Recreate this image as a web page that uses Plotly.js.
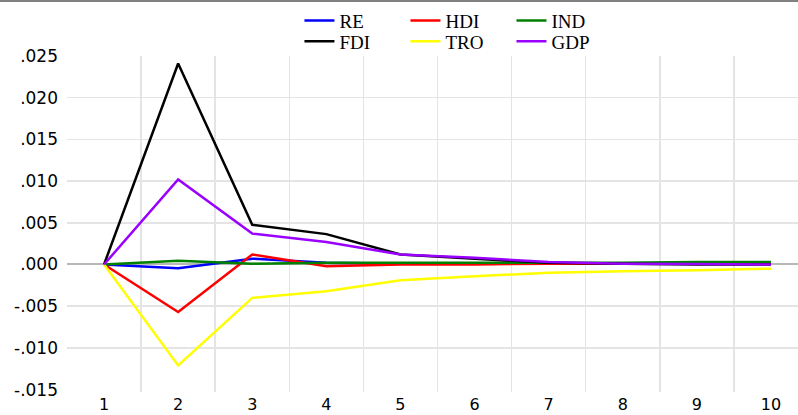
<!DOCTYPE html>
<html>
<head>
<meta charset="utf-8">
<script src="https://cdn.plot.ly/plotly-3.0.1.min.js"></script>
<style>html,body{margin:0;padding:0;background:#fff;}#chart{width:798px;height:415px;}</style>
</head>
<body>
<div id="chart"></div>
<script>
const periods = [1, 2, 3, 4, 5, 6, 7, 8, 9, 10];
const RE  = [0, -0.00045, 0.0007, 0.0002, 0.0001, 0.0001, 0.0001, 0.0001, 0.0001, 0.0001];
const HDI = [0, -0.0057, 0.0012, -0.0002, 0.0000, 0.0000, 0.0001, 0.0001, 0.0001, 0.0001];
const IND = [0, 0.00045, 0.0001, 0.0002, 0.0002, 0.0002, 0.0002, 0.0002, 0.0003, 0.0003];
const FDI = [0, 0.0241, 0.00476, 0.00364, 0.0012, 0.0007, 0.0002, 0.0001, 0.0000, 0.0000];
const TRO = [0, -0.0121, -0.0040, -0.0032, -0.0019, -0.0014, -0.0010, -0.0008, -0.0007, -0.0005];
const GDP = [0, 0.0102, 0.0037, 0.0027, 0.0012, 0.0008, 0.0003, 0.0001, 0.00005, 0.0000];

const yTickVals = [-0.015, -0.010, -0.005, 0, 0.005, 0.010, 0.015, 0.020, 0.025];
const yTickText = ['-.015', '-.010', '-.005', '.000', '.005', '.010', '.015', '.020', '.025'];
const yGridVals = [-0.010, -0.005, 0, 0.005, 0.010, 0.015, 0.020];
const xGridVals = [1.5, 2.5, 3.5, 4.5, 5.5, 6.5, 7.5, 8.5, 9.5];

const series = [
  {name: 'RE',  y: RE,  color: '#0000ff', legend: 'legend'},
  {name: 'HDI', y: HDI, color: '#ff0000', legend: 'legend'},
  {name: 'IND', y: IND, color: '#008000', legend: 'legend'},
  {name: 'FDI', y: FDI, color: '#000000', legend: 'legend2'},
  {name: 'TRO', y: TRO, color: '#ffff00', legend: 'legend2'},
  {name: 'GDP', y: GDP, color: '#9900ff', legend: 'legend2'}
];

const traces = [{x: [], y: [], xaxis: 'x', yaxis: 'y2', mode: 'lines', showlegend: false, hoverinfo: 'skip'}];
series.forEach(s => traces.push({
  x: periods, y: s.y, name: s.name, type: 'scatter', mode: 'lines',
  line: {color: s.color, width: 2.5}, legend: s.legend
}));

const xr = [0.5, 10.365];
const yr = [-0.01529, 0.025];
const legFont = {family: 'Liberation Serif, Times New Roman, serif', size: 19, color: '#000'};

const layout = {
  width: 798, height: 415,
  margin: {l: 67, r: 0, t: 56, b: 23},
  paper_bgcolor: '#fff', plot_bgcolor: '#fff',
  showlegend: true,
  xaxis: {
    range: xr, tickmode: 'array', tickvals: periods, ticktext: periods.map(String),
    showgrid: false, zeroline: false, showline: false, ticks: '',
    tickfont: {family: 'DejaVu Sans, sans-serif', size: 16, color: '#000'},
    ticklabelstandoff: 1,
    minor: {tickmode: 'array', tickvals: xGridVals, showgrid: true, gridcolor: '#e4e4e4', gridwidth: 1.5, ticks: ''}
  },
  yaxis: {
    range: yr, tickmode: 'array', tickvals: yTickVals, ticktext: yTickText,
    showgrid: false, zeroline: false, showline: false, ticks: '',
    tickfont: {family: 'DejaVu Sans, sans-serif', size: 17, color: '#000'},
    ticklabelstandoff: 8
  },
  yaxis2: {
    range: yr, overlaying: 'y', anchor: 'x', tickmode: 'array', tickvals: yGridVals,
    showticklabels: false, ticks: '', showline: false,
    showgrid: true, gridcolor: '#e4e4e4', gridwidth: 1.5,
    zeroline: true, zerolinecolor: '#b8b8b8', zerolinewidth: 2
  },
  legend: {
    orientation: 'h', x: 0.318, y: 1.162, xanchor: 'left', yanchor: 'top',
    font: legFont, entrywidth: 61, entrywidthmode: 'pixels', bgcolor: 'rgba(0,0,0,0)'
  },
  legend2: {
    orientation: 'h', x: 0.318, y: 1.100, xanchor: 'left', yanchor: 'top',
    font: legFont, entrywidth: 61, entrywidthmode: 'pixels', bgcolor: 'rgba(0,0,0,0)'
  },
  shapes: [{
    type: 'line', xref: 'paper', x0: -0.2, x1: 1.1,
    yref: 'paper', ysizemode: 'pixel', yanchor: 1, y0: 55, y1: 55,
    line: {color: '#808080', width: 2}
  }]
};

Plotly.newPlot('chart', traces, layout, {displayModeBar: false, staticPlot: true});
</script>
</body>
</html>
